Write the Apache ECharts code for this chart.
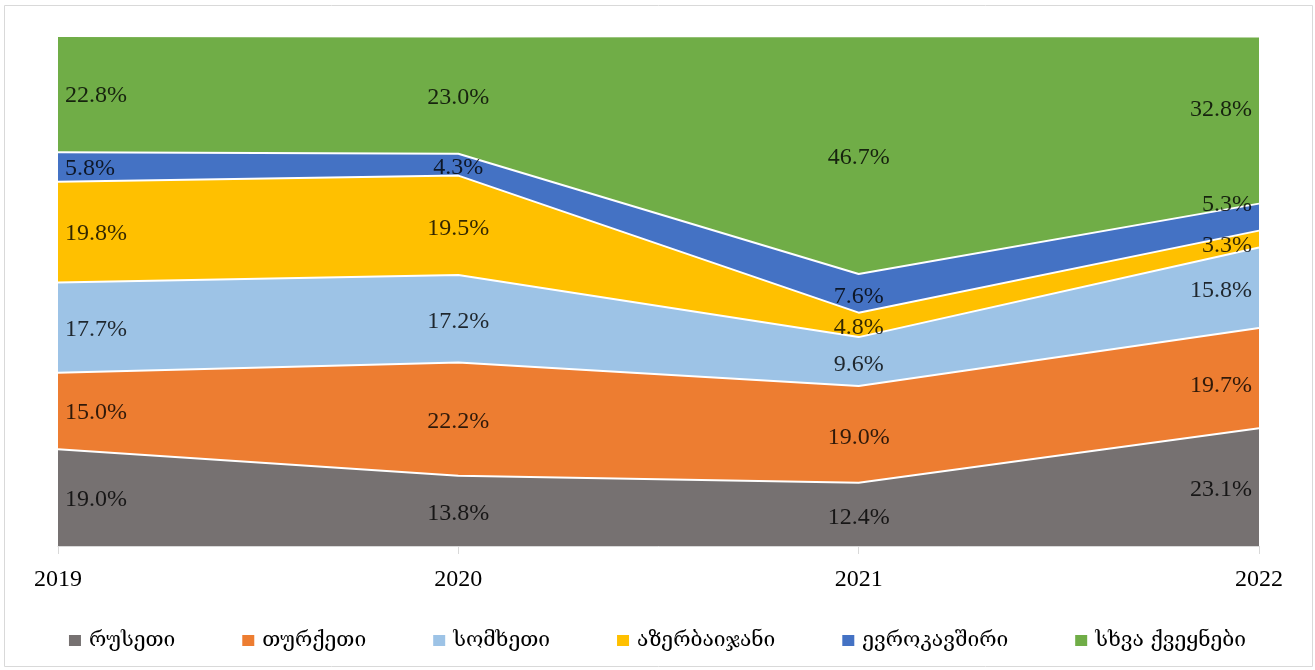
<!DOCTYPE html>
<html>
<head>
<meta charset="utf-8">
<script src="https://cdn.jsdelivr.net/npm/echarts@6/dist/echarts.min.js"></script>
<style>
html,body{margin:0;padding:0;background:#fff}
#chart{width:1315px;height:670px}
</style>
</head>
<body>
<div id="chart"></div>
<script>
var years = ['2019', '2020', '2021', '2022'];
var countries = ['რუსეთი', 'თურქეთი', 'სომხეთი', 'აზერბაიჯანი', 'ევროკავშირი', 'სხვა ქვეყნები'];
var russia = [19.0, 13.8, 12.4, 23.1];
var turkey = [15.0, 22.2, 19.0, 19.7];
var armenia = [17.7, 17.2, 9.6, 15.8];
var azerbaijan = [19.8, 19.5, 4.8, 3.3];
var eu = [5.8, 4.3, 7.6, 5.3];
var other = [22.8, 23.0, 46.7, 32.8];
var colors = ['#767171', '#ED7D31', '#9DC3E6', '#FFC000', '#4472C4', '#70AD47'];

var values = [russia, turkey, armenia, azerbaijan, eu, other];
var serif = '"Liberation Serif", "Times New Roman", serif';

// the last column's labels were moved a bit in the original so they don't collide
var lastNudge = { 1: 5, 3: 4, 4: -15, 5: -13 };

// totals per year, used for the hidden y max
var totals = years.map(function (y, j) {
	var s = 0;
	values.forEach(function (v) { s += v[j]; });
	return +s.toFixed(1);
});

var series = [];
values.forEach(function (v, i) {
	series.push({
		name: countries[i],
		type: 'line',
		stack: 'total',
		data: v,
		symbol: 'none',
		lineStyle: { color: '#fff', width: 2 },
		itemStyle: { color: colors[i] },
		areaStyle: { color: colors[i], opacity: 1 },
		z: 2
	});
});

// labels in the middle of each band
values.forEach(function (v, i) {
	var last = years.length - 1;
	var pts = v.map(function (val, j) {
		var below = 0;
		for (var k = 0; k < i; k++) below += values[k][j];
		var lbl = { show: true, position: 'inside', offset: [0, 3] };
		if (j === 0) lbl = { show: true, position: 'right', distance: 7, offset: [0, 2] };
		if (j === last) lbl = { show: true, position: 'left', distance: 7, offset: [0, 3 + (lastNudge[i] || 0)] };
		return { value: [j, below + val / 2], raw: val, label: lbl };
	});
	series.push({
		name: 'lbl' + i,
		type: 'scatter',
		symbolSize: 0,
		data: pts,
		silent: true,
		z: 5,
		label: {
			color: '#000',
			fontFamily: serif,
			fontSize: 24,
			formatter: function (p) { return p.data.raw.toFixed(1) + '%'; }
		}
	});
});

var chart = echarts.init(document.getElementById('chart'));
chart.setOption({
	animation: false,
	color: colors,
	graphic: [{
		type: 'rect',
		shape: { x: 4.5, y: 5.5, width: 1308, height: 661 },
		style: { fill: 'none', stroke: '#d9d9d9', lineWidth: 1 },
		silent: true
	}],
	grid: { left: 58, right: 56, top: 36, bottom: 124 },
	legend: {
		data: countries,
		top: 625,
		left: 'center',
		icon: 'rect',
		itemWidth: 12,
		itemHeight: 11,
		itemGap: 67,
		textStyle: { fontFamily: '"DejaVu Serif", "DejaVu Sans", serif', fontSize: 21, color: '#000', padding: [0, 0, 0, 3] }
	},
	xAxis: {
		type: 'category',
		data: years,
		boundaryGap: false,
		axisLine: { lineStyle: { color: '#d9d9d9' } },
		axisTick: { show: true, length: 8, lineStyle: { color: '#d9d9d9' } },
		axisLabel: { color: '#000', fontFamily: serif, fontSize: 24, margin: 22 },
		splitLine: { show: false }
	},
	yAxis: {
		type: 'value',
		min: 0,
		max: Math.max.apply(null, totals),
		show: false,
		splitLine: { show: false }
	},
	series: series
});
</script>
</body>
</html>
